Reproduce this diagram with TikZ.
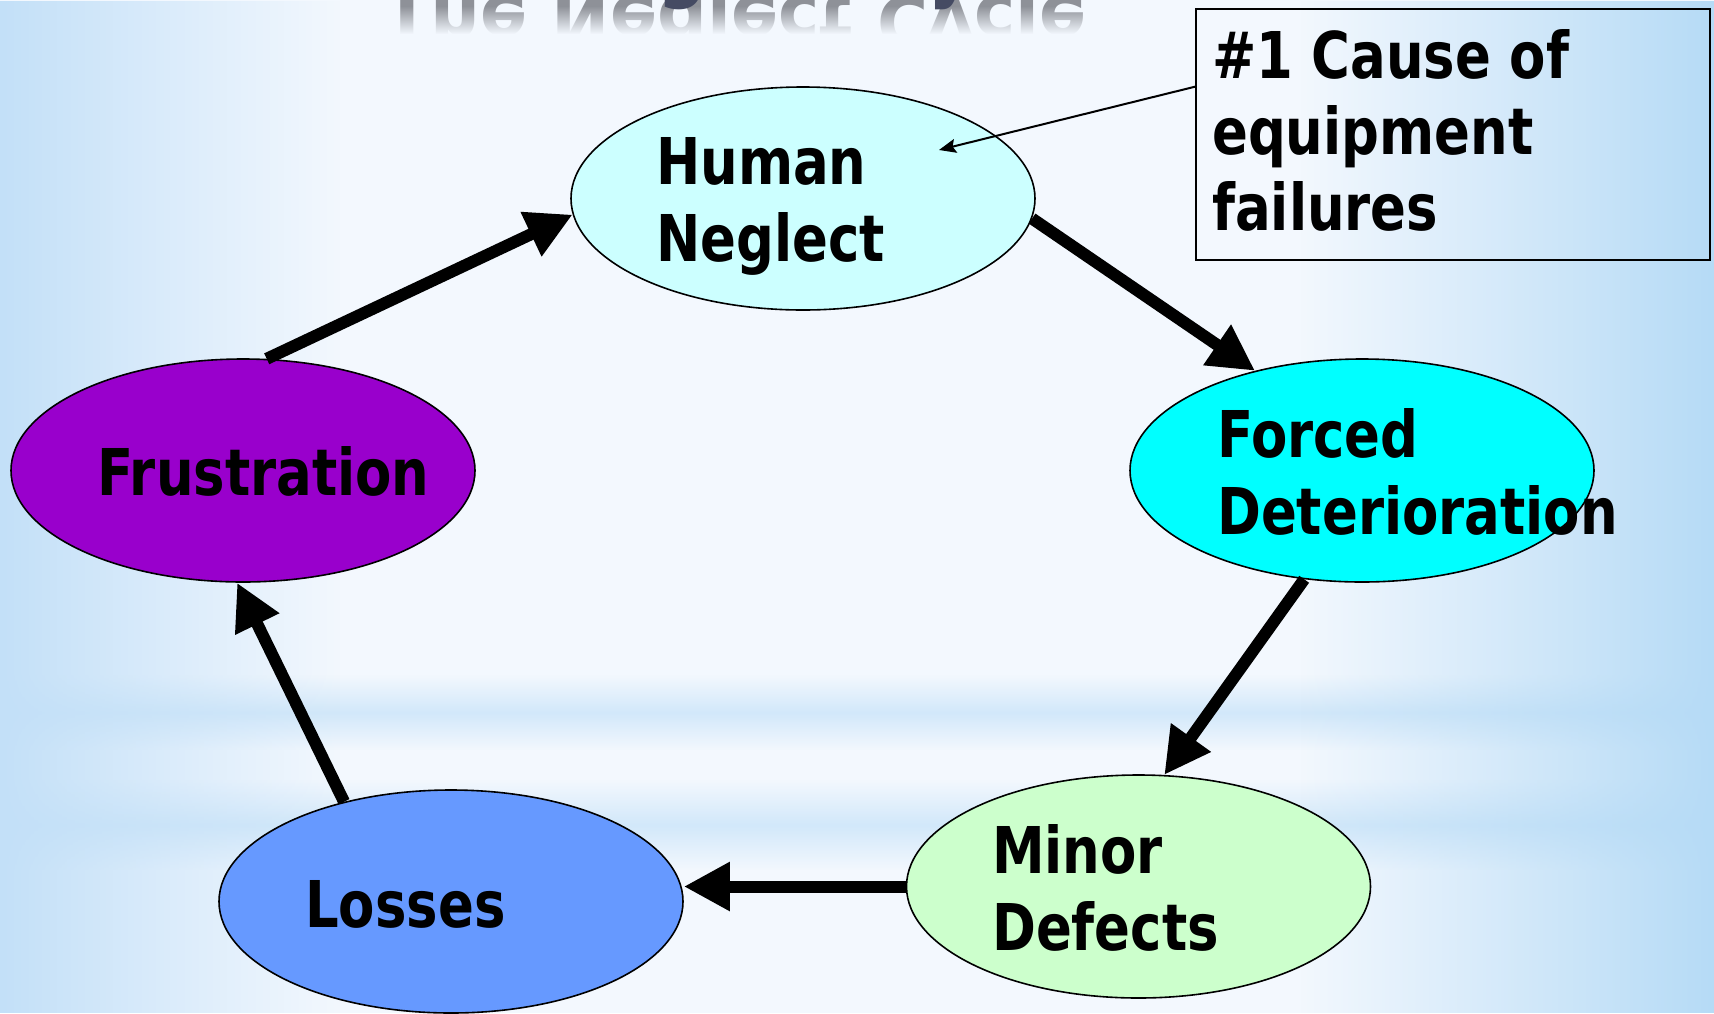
\documentclass[tikz,border=0pt]{standalone}
\usepackage{fontspec}
\newfontfamily\tah[FakeStretch=0.82]{DejaVu Sans Bold}
\usetikzlibrary{arrows.meta,shapes.geometric,fadings}
\definecolor{bgc}{HTML}{F3F8FE}
\definecolor{edgeL}{HTML}{C3E0F8}
\definecolor{edgeR}{HTML}{B6DBF6}
\definecolor{bandc}{HTML}{D2E8FA}
\definecolor{hnc}{HTML}{CCFFFF}
\definecolor{fdc}{HTML}{00FFFF}
\definecolor{frc}{HTML}{9900CC}
\definecolor{loc}{HTML}{6699FF}
\definecolor{mdc}{HTML}{CCFFCC}
\definecolor{titc}{HTML}{454B63}
\definecolor{reflc}{HTML}{8E9198}
\tikzfading[name=fadeR, left color=transparent!0, right color=transparent!100]
\tikzfading[name=fadeL, left color=transparent!100, right color=transparent!0]
\tikzfading[name=fadeU, top color=transparent!100, bottom color=transparent!0]
\tikzfading[name=fadeband, top color=transparent!100, bottom color=transparent!100, middle color=transparent!0]
\newcommand\lblfont{\tah\fontsize{64.5}{77}\selectfont}
\newcommand\twol[2]{\vtop{\baselineskip=77pt\hbox{#1}\hbox{#2}}}
\newcommand\threel[3]{\vtop{\baselineskip=76pt\hbox{#1}\hbox{#2}\hbox{#3}}}
\tikzset{
  ell/.style={ellipse, draw=black, line width=1.6pt, minimum width=464pt,
    minimum height=223pt, inner sep=0pt},
  lbl/.style={inner sep=0pt, anchor=base west, font=\lblfont, text=black},
  flow/.style={line width=12pt, -{Triangle[length=46pt,width=46pt]}},
  callout/.style={line width=2pt, -{Stealth[length=17pt,width=14pt,inset=3pt]}},
  titlefont/.style={font=\tah\fontsize{85}{90}\selectfont},
}
\begin{document}
\begin{tikzpicture}[x=1pt,y=-1pt]
\useasboundingbox (0,0) rectangle (1714,1013);
\path[clip] (0,0) rectangle (1714,1013);
% background
\fill[bgc] (0,0) rectangle (1714,1013);
\fill[bandc, path fading=fadeband] (0,675) rectangle (1714,750);
\fill[bandc, path fading=fadeband] (0,780) rectangle (1714,870);
\fill[edgeL, path fading=fadeR] (0,0) rectangle (340,1013);
\fill[edgeR, path fading=fadeL] (1300,0) rectangle (1714,1013);
% title remnants (cut off at the top edge)
\node[anchor=base west, inner sep=0pt, text=reflc, yscale=-0.85, transform shape,
  titlefont] (reflect) at (383,-4) {The Neglect Cycle};
\fill[bgc, path fading=fadeU] (360,6) rectangle (1110,34);
\fill[bgc] (360,34) rectangle (1110,60);
\node[anchor=base west, inner sep=0pt, text=titc, titlefont] (title) at (383,-9)
  {The Neglect Cycle};
% ellipses
\node[ell, fill=hnc] (hn) at (803,198.5) {};
\node[ell, fill=fdc] (fd) at (1362,470.5) {};
\node[ell, fill=mdc] (md) at (1138.5,886.5) {};
\node[ell, fill=loc] (lo) at (451,901.5) {};
\node[ell, fill=frc] (fr) at (243,470.5) {};
% cycle arrows
\draw[flow] (fr.78.6) -- (hn.184);
\draw[flow] (hn.-5) -- (fd.137.6);
\draw[flow] (fd.-118) -- (md.77.2);
\draw[flow] (md.west) -- (md.west -| lo.east);
\draw[flow] (lo.137.8) -- (fr.-93);
% labels
\node[lbl] (hnt) at (656,184) {\twol{Human}{Neglect}};
\node[lbl] (fdt) at (1217,457) {\twol{Forced}{Deterioration}};
\node[lbl] (mdt) at (992,873) {\twol{Minor}{Defects}};
\node[lbl] (lot) at (305,927) {Losses};
\node[lbl] (frt) at (97,495) {Frustration};
% callout box
\node[draw=black, line width=2pt, minimum width=514pt, minimum height=251pt,
  anchor=north west, inner sep=0pt] (box) at (1195,8) {};
\node[lbl] (boxt) at (1212,78) {\threel{\#1 Cause of}{equipment}{failures}};
\coordinate (calltip) at (939,150);
\draw[callout] ([yshift=-78.7pt]box.north west) -- (calltip);
\end{tikzpicture}
\end{document}
